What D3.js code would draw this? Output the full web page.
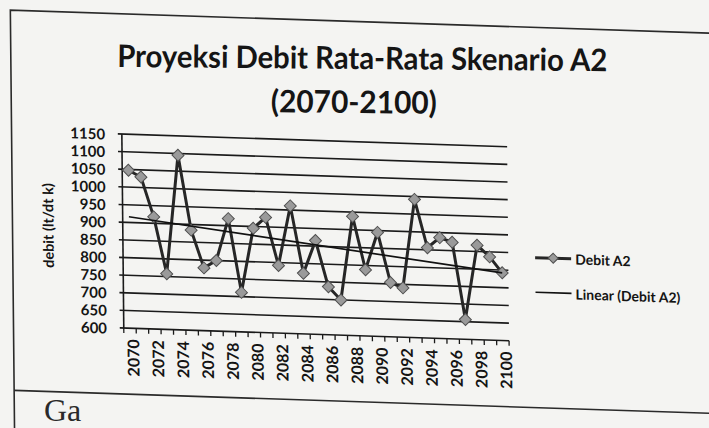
<!DOCTYPE html>
<html><head><meta charset="utf-8">
<script src="https://cdn.jsdelivr.net/npm/d3@7"></script>
<style>html,body{margin:0;padding:0;background:#f4f4f2;}svg{display:block;font-family:Lato,'Open Sans',sans-serif;}</style>
</head><body>
<svg id="c" width="709" height="428"></svg>
<script>
// ---- data ----
const years = [2070,2071,2072,2073,2074,2075,2076,2077,2078,2079,2080,2081,2082,2083,2084,2085,
               2086,2087,2088,2089,2090,2091,2092,2093,2094,2095,2096,2097,2098,2099,2100];
const debitA2 = [1048,1030,918,758,1095,884,778,800,920,712,895,927,792,962,772,866,
                 736,700,938,788,895,754,740,992,856,886,874,656,868,836,792];
const yTicks = [600,650,700,750,800,850,900,950,1000,1050,1100,1150];
const xTickLabels = [2070,2072,2074,2076,2078,2080,2082,2084,2086,2088,2090,2092,2094,2096,2098,2100];
const titleLines = ["Proyeksi Debit Rata-Rata Skenario A2", "(2070-2100)"];
const yAxisTitle = "debit (lt/dt k)";
const legendLabels = ["Debit A2", "Linear (Debit A2)"];
const captionText = "Ga";

// ---- layout ----
const svg = d3.select("#c");
svg.append("rect").attr("width",709).attr("height",428).attr("fill","#f4f4f2");

const L = 122.8, R = 508.1, T = 134, B = 328;
const x = d3.scalePoint().domain(years).range([L, R]).padding(0.5);
const bw = (R - L) / years.length;
const y = d3.scaleLinear().domain([600,1150]).range([B, T]);

// title (photo: nearly level)
const tg = svg.append("g").attr("transform","rotate(0.5,360,90)");
tg.append("text").attr("x",362).attr("y",69).attr("text-anchor","middle")
  .attr("font-size",31).attr("font-weight",700).attr("fill","#151515")
  .attr("textLength",490).attr("lengthAdjust","spacingAndGlyphs").text(titleLines[0]);
tg.append("text").attr("x",354).attr("y",113).attr("text-anchor","middle")
  .attr("font-size",31).attr("font-weight",700).attr("fill","#151515")
  .attr("textLength",166).attr("lengthAdjust","spacingAndGlyphs").text(titleLines[1]);

// skewed group to mimic photographed page
const g = svg.append("g")
  .attr("transform","translate(122,230) matrix(1,0.033,0.01,1,0,0) translate(-122,-230)");

// chart border
g.append("path").attr("d","M12.5,440 L12.5,13.7 L730,13.7").attr("fill","none")
  .attr("stroke","#2a2a2a").attr("stroke-width",1.6);
g.append("line").attr("x1",12.5).attr("x2",730).attr("y1",394).attr("y2",394)
  .attr("stroke","#2a2a2a").attr("stroke-width",1.6);

// gridlines
g.selectAll(".grid").data(yTicks.filter(v=>v>600)).join("line")
  .attr("x1",L-4).attr("x2",R).attr("y1",d=>y(d)).attr("y2",d=>y(d))
  .attr("stroke","#1a1a1a").attr("stroke-width",1.6);

// axes
g.append("line").attr("x1",L).attr("x2",L).attr("y1",T).attr("y2",B)
  .attr("stroke","#1a1a1a").attr("stroke-width",1.6);
g.append("line").attr("x1",L-4).attr("x2",R).attr("y1",B).attr("y2",B)
  .attr("stroke","#1a1a1a").attr("stroke-width",1.6);
g.selectAll(".xt").data(d3.range(years.length+1)).join("line")
  .attr("x1",i=>L+i*bw).attr("x2",i=>L+i*bw).attr("y1",B).attr("y2",B+5)
  .attr("stroke","#1a1a1a").attr("stroke-width",1.3);

// y labels
g.selectAll(".yl").data(yTicks).join("text")
  .attr("x",106).attr("y",d=>y(d)).attr("text-anchor","end").attr("dominant-baseline","central")
  .attr("font-size",15).attr("font-weight",700).attr("fill","#141414").text(d=>d);

// x labels
g.selectAll(".xl").data(xTickLabels).join("text")
  .attr("transform",d=>`translate(${x(d)+2.5},339) rotate(-90)`)
  .attr("text-anchor","end").attr("dominant-baseline","central")
  .attr("font-size",16).attr("font-weight",700).attr("fill","#141414").text(d=>d);

// y axis title
g.append("text").attr("transform","translate(48,228) rotate(-90)")
  .attr("text-anchor","middle").attr("dominant-baseline","central")
  .attr("font-size",14.5).attr("font-weight",700).attr("fill","#141414").text(yAxisTitle);

// series line
const pts = years.map((yr,i)=>({yr, v:debitA2[i]}));
g.append("path").datum(pts)
  .attr("d", d3.line().x(d=>x(d.yr)).y(d=>y(d.v)))
  .attr("fill","none").attr("stroke","#262626").attr("stroke-width",3).attr("stroke-linejoin","round");

// markers
const diamond = d3.symbol(d3.symbolSquare, 72);
g.selectAll(".mk").data(pts).join("path")
  .attr("d", diamond).attr("transform",d=>`translate(${x(d.yr)},${y(d.v)}) rotate(45)`)
  .attr("fill","#9a9a9a").attr("stroke","#505050").attr("stroke-width",1);

// linear trend (least squares)
const n = years.length;
const mx = d3.mean(years), my = d3.mean(debitA2);
const slope = d3.sum(years.map((t,i)=>(t-mx)*(debitA2[i]-my))) / d3.sum(years.map(t=>(t-mx)*(t-mx)));
const trend = [years[0], years[n-1]].map(t=>({yr:t, v: my + slope*(t-mx)}));
g.append("path").datum(trend)
  .attr("d", d3.line().x(d=>x(d.yr)).y(d=>y(d.v)))
  .attr("fill","none").attr("stroke","#111").attr("stroke-width",1.7);

// legend
const lg = g.append("g");
lg.append("line").attr("x1",535).attr("x2",571).attr("y1",244).attr("y2",244)
  .attr("stroke","#262626").attr("stroke-width",3);
lg.append("path").attr("d", d3.symbol(d3.symbolSquare, 50)).attr("transform","translate(553,244) rotate(45)")
  .attr("fill","#9a9a9a").attr("stroke","#505050").attr("stroke-width",1);
lg.append("text").attr("x",575).attr("y",244).attr("dominant-baseline","central")
  .attr("font-size",14).attr("font-weight",700).attr("fill","#141414").text(legendLabels[0]);
lg.append("line").attr("x1",535).attr("x2",571).attr("y1",278.6).attr("y2",278.6)
  .attr("stroke","#111").attr("stroke-width",1.7);
lg.append("text").attr("x",575).attr("y",279).attr("dominant-baseline","central")
  .attr("font-size",14).attr("font-weight",700).attr("fill","#141414").text(legendLabels[1]);

// caption fragment below the box
svg.append("text").attr("x",44).attr("y",421).attr("font-family","'Liberation Serif',serif")
  .attr("font-size",32).attr("fill","#2a2a2a").text(captionText);
</script>
</body></html>
